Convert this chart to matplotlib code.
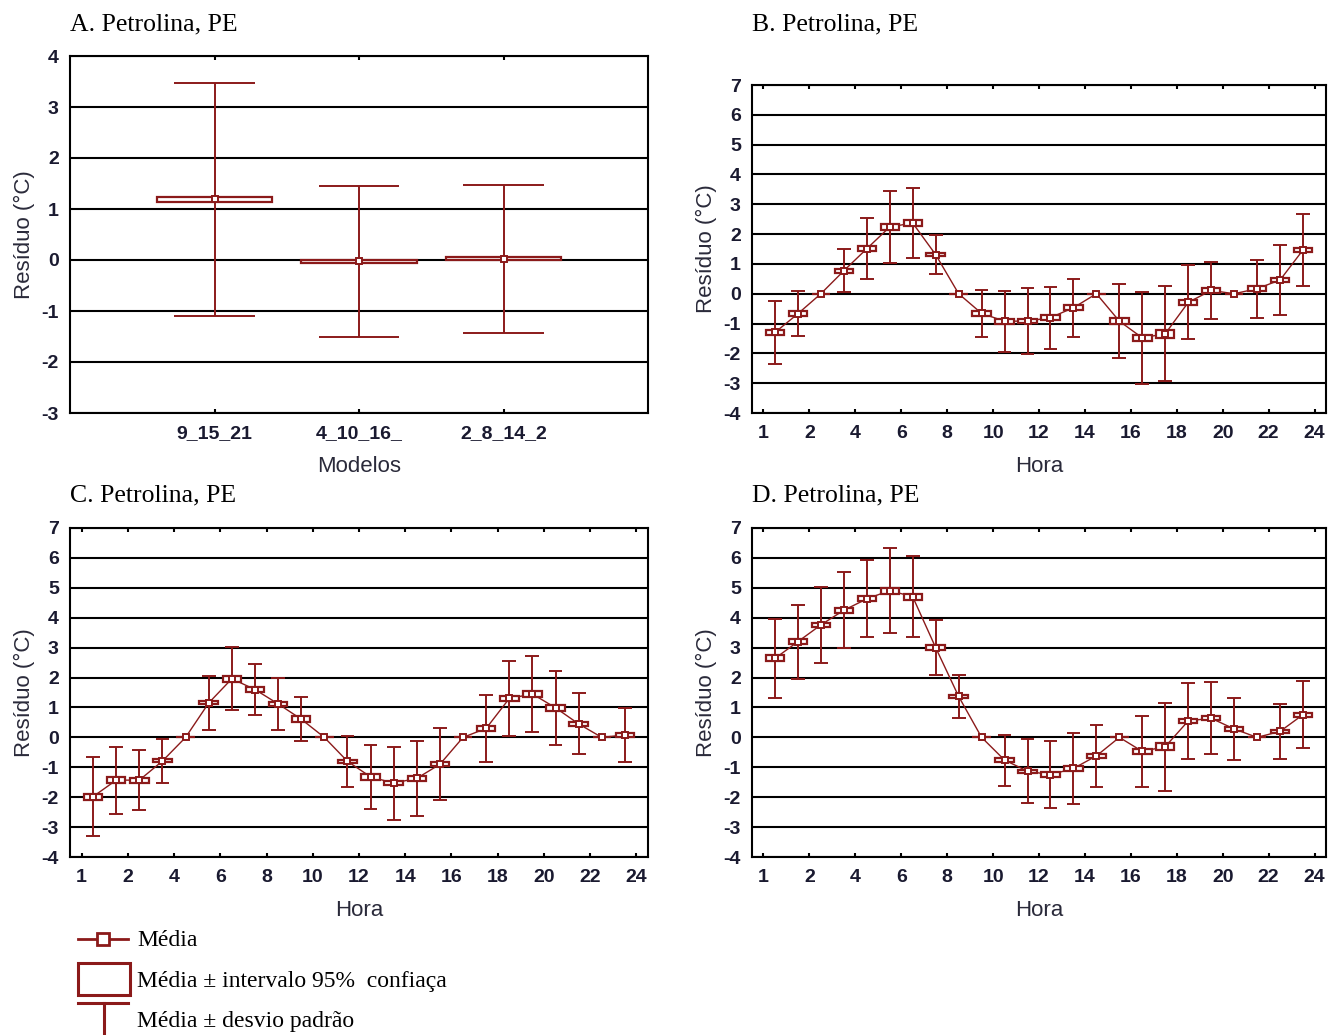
import matplotlib.pyplot as plt
import numpy as np
from matplotlib.patches import Rectangle

plt.rcParams['axes.unicode_minus'] = False

RED = '#8b1a1a'
SANS = 'Liberation Sans'
SERIF = 'Liberation Serif'

# painel A: modelos
modelos = ['9_15_21', '4_10_16_', '2_8_14_2']
a_media = [1.19, -0.025, 0.025]
a_ic = [0.055, 0.03, 0.03]
a_dp = [2.29, 1.475, 1.455]

hora = np.arange(1, 25)
hora_labels = ['1', '2', '4', '6', '8', '10', '12', '14', '16', '18', '20', '22', '24']

# painel B
b_media = [-1.30, -0.67, 0.0, 0.77, 1.51, 2.24, 2.37, 1.31, 0.0, -0.66, -0.92, -0.92,
           -0.80, -0.47, 0.0, -0.92, -1.48, -1.34, -0.29, 0.11, 0.0, 0.17, 0.46, 1.47]
b_dp = [1.04, 0.75, 0.0, 0.72, 1.02, 1.22, 1.17, 0.66, 0.0, 0.78, 1.02, 1.10,
        1.04, 0.97, 0.0, 1.23, 1.54, 1.59, 1.24, 0.95, 0.0, 0.97, 1.18, 1.20]
b_ic = [0.10, 0.08, 0.0, 0.07, 0.09, 0.10, 0.10, 0.05, 0.0, 0.08, 0.08, 0.06,
        0.07, 0.09, 0.0, 0.10, 0.09, 0.13, 0.09, 0.07, 0.0, 0.08, 0.08, 0.07]

# painel C
c_media = [-1.98, -1.43, -1.43, -0.79, 0.0, 1.15, 1.96, 1.60, 1.12, 0.61, 0.0, -0.80,
           -1.32, -1.53, -1.37, -0.90, 0.0, 0.30, 1.30, 1.45, 0.99, 0.45, 0.0, 0.08]
c_dp = [1.33, 1.12, 1.00, 0.73, 0.0, 0.89, 1.06, 0.84, 0.86, 0.74, 0.0, 0.85,
        1.08, 1.22, 1.25, 1.20, 0.0, 1.11, 1.26, 1.27, 1.24, 1.02, 0.0, 0.90]
c_ic = [0.10, 0.09, 0.08, 0.05, 0.0, 0.05, 0.10, 0.08, 0.07, 0.09, 0.0, 0.05,
        0.09, 0.07, 0.09, 0.06, 0.0, 0.08, 0.09, 0.09, 0.10, 0.08, 0.0, 0.06]

# painel D
d_media = [2.64, 3.20, 3.76, 4.25, 4.63, 4.91, 4.70, 3.00, 1.37, 0.0, -0.76, -1.13,
           -1.25, -1.04, -0.62, 0.0, -0.47, -0.31, 0.55, 0.64, 0.28, 0.0, 0.20, 0.76]
d_dp = [1.33, 1.24, 1.27, 1.27, 1.29, 1.43, 1.36, 0.93, 0.73, 0.0, 0.85, 1.08,
        1.12, 1.18, 1.05, 0.0, 1.20, 1.47, 1.27, 1.21, 1.05, 0.0, 0.93, 1.11]
d_ic = [0.10, 0.08, 0.08, 0.08, 0.08, 0.10, 0.10, 0.09, 0.05, 0.0, 0.07, 0.05,
        0.08, 0.07, 0.08, 0.0, 0.08, 0.12, 0.08, 0.07, 0.08, 0.0, 0.06, 0.07]


def painel(ax, x, media, ic, dp, linha=True, caixa=0.4, cap=0.3):
    for xi, m, c, s in zip(x, media, ic, dp):
        if s > 0:
            ax.vlines(xi, m - s, m + s, color=RED, lw=1.4, zorder=3)
            ax.hlines([m - s, m + s], xi - cap, xi + cap, color=RED, lw=1.4, zorder=3)
        ax.add_patch(Rectangle((xi - caixa, m - c), 2 * caixa, 2 * c,
                               fc='white', ec=RED, lw=1.6, zorder=4))
    if linha:
        ax.plot(x, media, color=RED, lw=1, zorder=3.5)
    ax.plot(x, media, 's', ms=5, mfc='white', mec=RED, mew=1.4, zorder=5)


def estilo(ax, ylo, yhi, xlabel):
    ax.set_ylim(ylo, yhi)
    ax.set_yticks(range(ylo, yhi + 1))
    ax.yaxis.grid(True, color='black', lw=1.5)
    ax.set_axisbelow(True)
    for s in ax.spines.values():
        s.set_linewidth(1.5)
    ax.tick_params(axis='x', direction='in', top=True, length=3, width=1.5, pad=9)
    ax.tick_params(axis='y', length=0, pad=8)
    for t in ax.get_xticklabels() + ax.get_yticklabels():
        t.set_fontfamily(SANS)
        t.set_fontweight('bold')
        t.set_fontsize(14)
        t.set_color('#1a1a30')
    ax.set_ylabel('Resíduo (°C)', family=SANS, fontsize=16, color='#2a2a3a', labelpad=5)
    ax.set_xlabel(xlabel, family=SANS, fontsize=16, color='#2a2a3a', labelpad=10)


W, H = 1328, 1035
fig = plt.figure(figsize=(W / 100, H / 100), dpi=100)


def eixo(l, t, r, b):
    return fig.add_axes([l / W, 1 - b / H, (r - l) / W, (b - t) / H])


axA = eixo(70, 56, 648, 413)
axB = eixo(752, 85, 1326, 413)
axC = eixo(70, 528, 648, 857)
axD = eixo(752, 528, 1326, 857)

painel(axA, [1, 2, 3], a_media, a_ic, a_dp, linha=False, caixa=0.4, cap=0.28)
axA.set_xlim(0, 4)
axA.set_xticks([1, 2, 3])
axA.set_xticklabels(modelos)
estilo(axA, -3, 4, 'Modelos')

for ax, m, c, s in [(axB, b_media, b_ic, b_dp), (axC, c_media, c_ic, c_dp),
                    (axD, d_media, d_ic, d_dp)]:
    painel(ax, hora, m, c, s)
    ax.set_xlim(0, 25)
    ax.set_xticks(np.arange(0.5, 25, 2))
    ax.set_xticklabels(hora_labels)
    estilo(ax, -4, 7, 'Hora')

for txt, px, py in [('A. Petrolina, PE', 70, 24), ('B. Petrolina, PE', 752, 24),
                    ('C. Petrolina, PE', 70, 495), ('D. Petrolina, PE', 752, 495)]:
    fig.text(px / W, 1 - py / H, txt, family=SERIF, fontsize=18.5, va='center', ha='left')

# legenda
lg = fig.add_axes([0, 0, 1, 1], facecolor='none')
lg.set_xlim(0, W)
lg.set_ylim(H, 0)
lg.axis('off')
lg.plot([78, 128], [939, 939], color=RED, lw=2)
lg.plot([103], [939], 's', ms=9, mfc='white', mec=RED, mew=2)
lg.add_patch(Rectangle((78, 963), 52, 32, fc='none', ec=RED, lw=2.2))
lg.plot([78, 128], [1003, 1003], color=RED, lw=2.2)
lg.plot([104, 104], [1003, 1035], color=RED, lw=2.2)
for txt, py in [('Média', 940), ('Média ± intervalo 95%  confiaça', 982),
                ('Média ± desvio padrão', 1022)]:
    lg.text(137, py, txt, family=SERIF, fontsize=17, va='center', ha='left')

fig.savefig('out.png', dpi=100)
